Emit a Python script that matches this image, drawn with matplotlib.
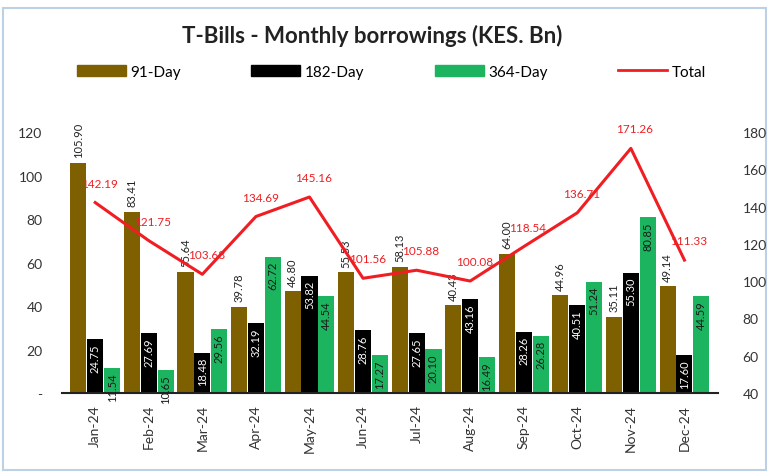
import numpy as np
import matplotlib.pyplot as plt
from matplotlib.patches import Rectangle
from matplotlib.lines import Line2D

months = ["Jan-24", "Feb-24", "Mar-24", "Apr-24", "May-24", "Jun-24",
          "Jul-24", "Aug-24", "Sep-24", "Oct-24", "Nov-24", "Dec-24"]
day91 = [105.90, 83.41, 55.64, 39.78, 46.80, 55.53, 58.13, 40.43, 64.00, 44.96, 35.11, 49.14]
day182 = [24.75, 27.69, 18.48, 32.19, 53.82, 28.76, 27.65, 43.16, 28.26, 40.51, 55.30, 17.60]
day364 = [11.54, 10.65, 29.56, 62.72, 44.54, 17.27, 20.10, 16.49, 26.28, 51.24, 80.85, 44.59]
total = [142.19, 121.75, 103.68, 134.69, 145.16, 101.56, 105.88, 100.08, 118.54, 136.71, 171.26, 111.33]

c91 = "#7F6000"
c182 = "#000000"
c364 = "#1DB460"
cline = "#F01E23"

plt.rcParams['font.family'] = ['Lato', 'DejaVu Sans']

fig = plt.figure(figsize=(7.75, 4.77), dpi=100)
fig.patches.append(Rectangle((0.004, 0.012), 0.985, 0.97, transform=fig.transFigure,
                             facecolor="white", edgecolor="#BCD0E6", linewidth=1.5,
                             zorder=-10))

ax = fig.add_axes([0.080, 0.174, 0.846, 0.547])
ax.set_facecolor("none")
x = np.arange(len(months))
w = 0.30
off = 0.315

ax.bar(x - off, day91, w, color=c91)
ax.bar(x, day182, w, color=c182)
ax.bar(x + off, day364, w, color=c364)

for xi, v in zip(x, day91):
    ax.annotate(f"{v:.2f}", (xi - off, v), xytext=(0, 4), textcoords="offset points",
                rotation=90, ha="center", va="bottom", fontsize=8, color="#222222",
                annotation_clip=False)
for xi, v in zip(x, day182):
    ax.annotate(f"{v:.2f}", (xi, v), xytext=(0, -3), textcoords="offset points",
                rotation=90, ha="center", va="top", fontsize=8, color="white")
for xi, v in zip(x, day364):
    ax.annotate(f"{v:.2f}", (xi + off, v), xytext=(0, -3), textcoords="offset points",
                rotation=90, ha="center", va="top", fontsize=8, color="#1a1a1a")

ax.set_ylim(0, 120)
ax.set_xlim(-0.62, 11.62)
ax.set_yticks(range(0, 121, 20))
ax.set_yticklabels(["-"] + [str(t) for t in range(20, 121, 20)])
ax.set_xticks(x)
ax.set_xticklabels(months, rotation=90)
ax.tick_params(length=0, labelsize=10, colors="#333333")
ax.tick_params(axis="y", pad=14)
ax.tick_params(axis="x", pad=8)
for s in ["top", "left", "right"]:
    ax.spines[s].set_visible(False)
ax.spines["bottom"].set_color("#222222")
ax.spines["bottom"].set_linewidth(1.5)

ax2 = ax.twinx()
ax2.plot(x, total, color=cline, linewidth=2.2)
for xi, v in zip(x, total):
    ax2.annotate(f"{v:.2f}", (xi, v), xytext=(3, 10), textcoords="offset points",
                 ha="center", va="bottom", fontsize=8.5, color=cline)
ax2.set_ylim(40, 180)
ax2.set_yticks(range(40, 181, 20))
ax2.tick_params(length=0, labelsize=10, colors="#333333", pad=18)
for s in ["top", "left", "right", "bottom"]:
    ax2.spines[s].set_visible(False)

fig.text(0.48, 0.925, "T-Bills - Monthly borrowings (KES. Bn)", ha="center", va="center",
         fontsize=16, fontweight="bold", color="#222222")

handles = [Rectangle((0, 0), 1, 1, color=c91), Rectangle((0, 0), 1, 1, color=c182),
           Rectangle((0, 0), 1, 1, color=c364), Line2D([0], [0], color=cline, linewidth=2)]
fig.legend(handles, ["91-Day", "182-Day", "364-Day", "Total"], loc="center",
           bbox_to_anchor=(0.505, 0.848), ncol=4, frameon=False, fontsize=11,
           handlelength=3.2, handleheight=0.7, handletextpad=0.3, columnspacing=4.6)

fig.savefig("out.png", dpi=100)
